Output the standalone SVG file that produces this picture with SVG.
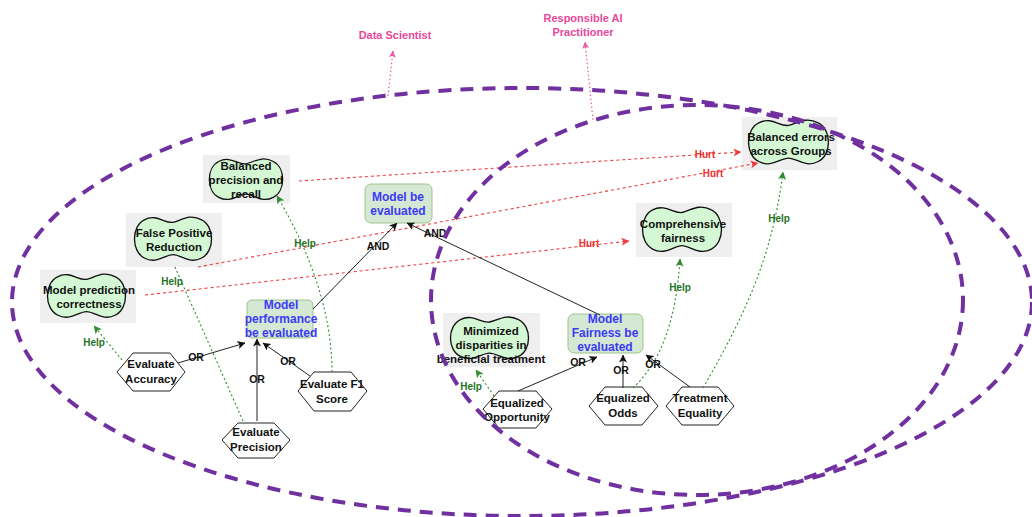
<svg xmlns="http://www.w3.org/2000/svg" width="1032" height="517" viewBox="0 0 1032 517">
<style>
text{font-family:"Liberation Sans",Arial,sans-serif;font-weight:bold;text-anchor:middle}
.nt{font-size:11.5px;fill:#111}
.tt{font-size:12px;fill:#3b3bf5}
.box{fill:#efefef}
.cloud{fill:#d3f8d3;stroke:#111;stroke-width:1.6}
.task{fill:#d5e8d4;stroke:#9cc48a;stroke-width:1}
.hex{fill:#fff;stroke:#222;stroke-width:1}
.help{fill:none;stroke:#2e8b2e;stroke-width:1.1;stroke-dasharray:2 2.5}
.hurt{fill:none;stroke:#f03c3c;stroke-width:1.1;stroke-dasharray:3 3}
.dep{fill:none;stroke:#222;stroke-width:1}
.act{fill:none;stroke:#ec5aa0;stroke-width:1.2;stroke-dasharray:1.5 2.5}
.lh{font-size:10px;fill:#1f741f}
.lr{font-size:10px;fill:#f03030}
.lb{font-size:10.5px;fill:#111}
.actor{font-size:11px;fill:#e8489a}
.bound{fill:none;stroke:#7030a0;stroke-width:4;stroke-dasharray:13 9}
</style>
<defs>
<path id="cl" d="M15,7 C30,-1 40,12 50,10 C60,8 70,-1 85,7 C101,15 101,45 85,53 C70,61 60,49 50,49 C40,49 30,61 15,53 C-1,45 -1,15 15,7 Z"/>
<marker id="ab" viewBox="0 0 8 8" refX="7.5" refY="4" markerWidth="8" markerHeight="8" markerUnits="userSpaceOnUse" orient="auto"><path d="M0,0 L8,4 L0,8 L2,4 Z" fill="#111"/></marker>
<marker id="ag" viewBox="0 0 8 8" refX="7.5" refY="4" markerWidth="8" markerHeight="8" markerUnits="userSpaceOnUse" orient="auto"><path d="M0,0 L8,4 L0,8 L2,4 Z" fill="#2e8b2e"/></marker>
<marker id="ar" viewBox="0 0 8 8" refX="7.5" refY="4" markerWidth="8" markerHeight="8" markerUnits="userSpaceOnUse" orient="auto"><path d="M0,0 L8,4 L0,8 L2,4 Z" fill="#f03c3c"/></marker>
<marker id="ap" viewBox="0 0 8 8" refX="7.5" refY="4" markerWidth="7" markerHeight="7" markerUnits="userSpaceOnUse" orient="auto"><path d="M0,0 L8,4 L0,8 L2,4 Z" fill="#ec5aa0"/></marker>
</defs>

<g id="actor-data-scientist">
<text class="actor" x="395" y="39">Data Scientist</text>
</g>
<g id="actor-rai">
<text class="actor" x="583" y="22">Responsible AI</text>
<text class="actor" x="583" y="36">Practitioner</text>
</g>

<g id="sg-balanced-pr">
<rect class="box" x="203" y="155" width="87" height="48"/>
<use href="#cl" class="cloud" vector-effect="non-scaling-stroke" transform="translate(207,156) scale(0.78,0.78)"/>
<text class="nt" x="246" y="170">Balanced</text>
<text class="nt" x="246" y="184">precision and</text>
<text class="nt" x="246" y="198">recall</text>
</g>
<g id="sg-fpr">
<rect class="box" x="126" y="213" width="96" height="54"/>
<use href="#cl" class="cloud" vector-effect="non-scaling-stroke" transform="translate(132,214) scale(0.82,0.83)"/>
<text class="nt" x="174" y="237">False Positive</text>
<text class="nt" x="174" y="251">Reduction</text>
</g>
<g id="sg-mpc">
<rect class="box" x="40" y="270" width="96" height="53"/>
<use href="#cl" class="cloud" vector-effect="non-scaling-stroke" transform="translate(45,271) scale(0.83,0.83)"/>
<text class="nt" x="89" y="294">Model prediction</text>
<text class="nt" x="89" y="308">correctness</text>
</g>
<g id="sg-beag">
<rect class="box" x="742" y="117" width="95" height="53"/>
<use href="#cl" class="cloud" vector-effect="non-scaling-stroke" transform="translate(746,117) scale(0.85,0.84)"/>
<text class="nt" x="791" y="141">Balanced errors</text>
<text class="nt" x="791" y="155">across Groups</text>
</g>
<g id="sg-comp">
<rect class="box" x="636" y="203" width="96" height="54"/>
<use href="#cl" class="cloud" vector-effect="non-scaling-stroke" transform="translate(640,204) scale(0.84,0.85)"/>
<text class="nt" x="683" y="228">Comprehensive</text>
<text class="nt" x="683" y="242">fairness</text>
</g>
<g id="sg-min">
<rect class="box" x="443" y="313" width="97" height="54"/>
<use href="#cl" class="cloud" vector-effect="non-scaling-stroke" transform="translate(448,314) scale(0.83,0.80)"/>
<text class="nt" x="491" y="335">Minimized</text>
<text class="nt" x="491" y="349">disparities in</text>
<text class="nt" x="491" y="363">beneficial treatment</text>
</g>

<g id="task-model-eval">
<rect class="task" x="365" y="184" width="67" height="39" rx="6"/>
<text class="tt" x="398" y="201">Model be</text>
<text class="tt" x="398" y="215">evaluated</text>
</g>
<g id="task-perf">
<rect class="task" x="247" y="300" width="66" height="38" rx="5"/>
<text class="tt" x="281" y="309">Model</text>
<text class="tt" x="281" y="323">performance</text>
<text class="tt" x="281" y="337">be evaluated</text>
</g>
<g id="task-fair">
<rect class="task" x="568" y="314" width="75" height="39" rx="6"/>
<text class="tt" x="605" y="323">Model</text>
<text class="tt" x="605" y="337">Fairness be</text>
<text class="tt" x="605" y="351">evaluated</text>
</g>

<g id="h-acc">
<polygon class="hex" points="117,372 133,353 170,353 185,372 170,391 133,391"/>
<text class="nt" x="151" y="368">Evaluate</text>
<text class="nt" x="151" y="383">Accuracy</text>
</g>
<g id="h-prec">
<polygon class="hex" points="222,440 238,423 274,423 290,440 274,458 238,458"/>
<text class="nt" x="256" y="436">Evaluate</text>
<text class="nt" x="256" y="451">Precision</text>
</g>
<g id="h-f1">
<polygon class="hex" points="298,391 314,372 351,372 367,391 351,411 314,411"/>
<text class="nt" x="332" y="388">Evaluate F1</text>
<text class="nt" x="332" y="403">Score</text>
</g>
<g id="h-eqopp">
<polygon class="hex" points="483,409 499,391 536,391 552,409 536,428 499,428"/>
<text class="nt" x="517" y="407">Equalized</text>
<text class="nt" x="517" y="421">Opportunity</text>
</g>
<g id="h-eqodds">
<polygon class="hex" points="589,406 605,387 642,387 658,406 642,425 605,425"/>
<text class="nt" x="623" y="402">Equalized</text>
<text class="nt" x="623" y="417">Odds</text>
</g>
<g id="h-treq">
<polygon class="hex" points="666,406 682,387 718,387 734,406 718,425 682,425"/>
<text class="nt" x="700" y="402">Treatment</text>
<text class="nt" x="700" y="417">Equality</text>
</g>

<g id="connectors">
<path class="act" d="M388,96 L393,51" marker-end="url(#ap)"/>
<path class="act" d="M593,120 L585,42" marker-end="url(#ap)"/>

<path class="help" d="M122,360 L94,326" marker-end="url(#ag)"/>
<path class="help" d="M243,421 L175,267"/>
<path class="help" d="M332,372 C332,300 300,235 277,196" marker-end="url(#ag)"/>
<path class="help" d="M494,396 L476,370" marker-end="url(#ag)"/>
<path class="help" d="M633,388 C662,360 676,320 680,259" marker-end="url(#ag)"/>
<path class="help" d="M703,388 C742,320 772,260 783,172" marker-end="url(#ag)"/>

<path class="hurt" d="M299,181 L741,152" marker-end="url(#ar)"/>
<path class="hurt" d="M198,267 L758,163" marker-end="url(#ar)"/>
<path class="hurt" d="M145,295 L629,241" marker-end="url(#ar)"/>

<path class="dep" d="M313,309 L397,223" marker-end="url(#ab)"/>
<path class="dep" d="M600,315 L407,223" marker-end="url(#ab)"/>
<path class="dep" d="M178,363 L245,343" marker-end="url(#ab)"/>
<path class="dep" d="M257,421 L257,339" marker-end="url(#ab)"/>
<path class="dep" d="M310,376 L263,343" marker-end="url(#ab)"/>
<path class="dep" d="M518,391 L597,357" marker-end="url(#ab)"/>
<path class="dep" d="M623,388 L623,355" marker-end="url(#ab)"/>
<path class="dep" d="M690,387 L646,355" marker-end="url(#ab)"/>

<g>
<text class="lh" x="94" y="346">Help</text>
<text class="lh" x="172" y="285">Help</text>
<text class="lh" x="305" y="247">Help</text>
<text class="lh" x="471" y="390">Help</text>
<text class="lh" x="680" y="291">Help</text>
<text class="lh" x="779" y="222">Help</text>
<text class="lr" x="705" y="158">Hurt</text>
<text class="lr" x="713" y="177">Hurt</text>
<text class="lr" x="589" y="247">Hurt</text>
<text class="lb" x="378" y="250">AND</text>
<text class="lb" x="435" y="237">AND</text>
<text class="lb" x="196" y="361">OR</text>
<text class="lb" x="257" y="383">OR</text>
<text class="lb" x="288" y="365">OR</text>
<text class="lb" x="578" y="366">OR</text>
<text class="lb" x="621" y="374">OR</text>
<text class="lb" x="653" y="368">OR</text>
</g>
</g>

<g id="boundaries">
<ellipse class="bound" cx="522" cy="302" rx="510" ry="214"/>
<ellipse class="bound" cx="697" cy="300" rx="266" ry="195"/>
</g>
</svg>
